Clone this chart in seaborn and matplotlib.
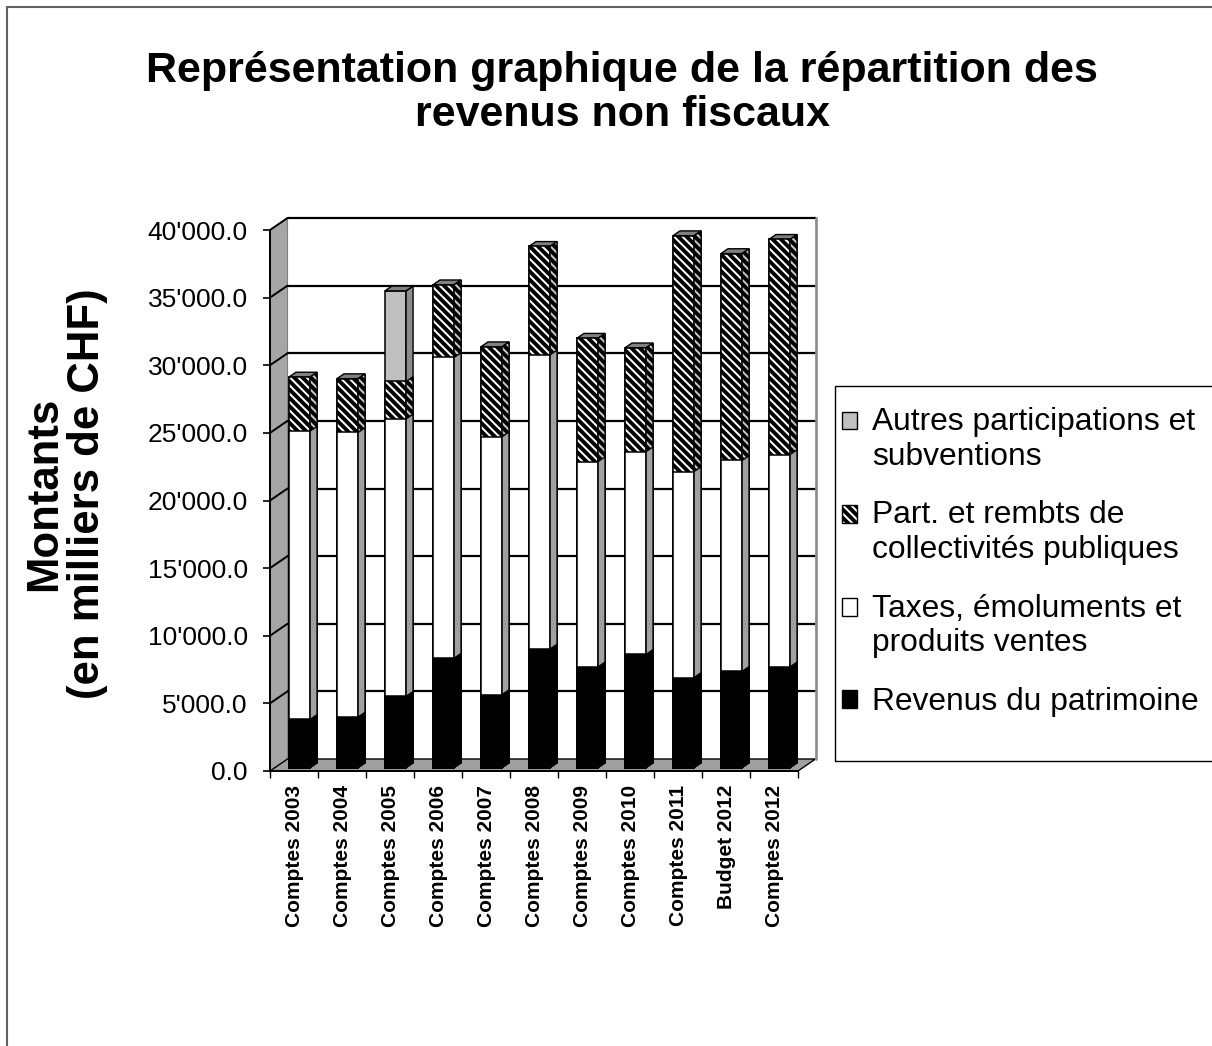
import numpy as np
import matplotlib
matplotlib.use("Agg")
import matplotlib.pyplot as plt
import seaborn as sns
from matplotlib.patches import Polygon, Rectangle, Patch
from matplotlib.transforms import ScaledTranslation, IdentityTransform
from matplotlib.lines import Line2D
from matplotlib.ticker import FuncFormatter, FixedLocator
from matplotlib.legend_handler import HandlerPatch

# ---------------- data ----------------
categories = ["Comptes 2003", "Comptes 2004", "Comptes 2005", "Comptes 2006",
              "Comptes 2007", "Comptes 2008", "Comptes 2009", "Comptes 2010",
              "Comptes 2011", "Budget 2012", "Comptes 2012"]
revenus_patrimoine = [3550, 3730, 5260, 8080, 5390, 8760, 7440, 8360, 6650, 7100, 7440]
taxes_emoluments = [21320, 21040, 20510, 22240, 19070, 21750, 15180, 14990, 15230, 15600, 15700]
part_rembts = [4000, 3980, 2770, 5370, 6650, 8020, 9120, 7680, 17440, 15300, 15910]
autres_participations = [0, 0, 6700, 0, 0, 0, 0, 0, 0, 0, 0]

series_labels = ["Revenus du patrimoine",
                 "Taxes, émoluments et\nproduits ventes",
                 "Part. et rembts de\ncollectivités publiques",
                 "Autres participations et\nsubventions"]
y_ticks = [0, 5000, 10000, 15000, 20000, 25000, 30000, 35000, 40000]
title = "Représentation graphique de la répartition des\nrevenus non fiscaux"
y_label = "Montants\n(en milliers de CHF)"

# ---------------- style ----------------
sns.set_theme(style="white")
plt.rcParams['font.family'] = ['Liberation Sans', 'DejaVu Sans']
plt.rcParams['hatch.linewidth'] = 2.8

W, H = 1212, 1046
fig = plt.figure(figsize=(W / 100, H / 100), dpi=100)
fig.patch.set_facecolor('white')
ax = fig.add_axes([270 / W, 1 - 771 / H, 528 / W, 541 / H])
ax.set_facecolor('none')

HATCH = '\\\\\\\\'
layers = [revenus_patrimoine, taxes_emoluments, part_rembts, autres_participations]
face_colors = ['black', 'white', 'white', '#c0c0c0']
side_colors = ['black', '#a0a0a0', '#c8c8c8', '#8c8c8c']
hatches = [None, None, HATCH, None]
cum = np.cumsum(np.array(layers, dtype=float), axis=0)

# geometry of the pseudo-3D look (pixels)
DX, DY = 17.5, 12.0      # depth of walls / floor
BOX, BOY = 5.5, 3.5      # front face of bars offset from front plane
SDX, SDY = 7.0, 4.8      # depth of bars
bar_off = ax.transData + ScaledTranslation(BOX / 100, BOY / 100, fig.dpi_scale_trans)

containers = []
for k in reversed(range(len(layers))):
    kw = dict(x=categories, y=cum[k], color=face_colors[k], saturation=1,
              edgecolor='black', linewidth=1.1, width=0.44, ax=ax, zorder=6 - k)
    if hatches[k]:
        kw['hatch'] = hatches[k]
    n0 = len(ax.patches)
    sns.barplot(**kw)
    containers.append((k, list(ax.patches[n0:])))

ax.set_xlim(-0.5, len(categories) - 0.5)
ax.set_ylim(0, 40000)
ax.set_xlabel('')
ax.set_ylabel('')

ident = IdentityTransform()
for k, bars in containers:
    for b in bars:
        b.set_transform(bar_off)
        b.set_clip_on(False)
        bx, by, bw, bh = b.get_x(), b.get_y(), b.get_width(), b.get_height()
        (xr0, y0) = bar_off.transform((bx + bw, by))
        (xr1, y1) = bar_off.transform((bx + bw, by + bh))
        (xl1, _) = bar_off.transform((bx, by + bh))
        side = Polygon([(xr0, y0), (xr0 + SDX, y0 + SDY), (xr1 + SDX, y1 + SDY), (xr1, y1)],
                       closed=True, transform=ident, facecolor=side_colors[k],
                       edgecolor='black', linewidth=1.0, hatch=hatches[k],
                       zorder=6 - k, clip_on=False)
        ax.add_patch(side)
        if k == len(layers) - 1:
            cap = Polygon([(xl1, y1), (xr1, y1), (xr1 + SDX, y1 + SDY), (xl1 + SDX, y1 + SDY)],
                          closed=True, transform=ident, facecolor='#808080',
                          edgecolor='black', linewidth=1.0, zorder=6 - k, clip_on=False)
            ax.add_patch(cap)

# ---- walls, floor and back gridlines ----
xl, xr = ax.get_xlim()
(fx0, fy0) = ax.transData.transform((xl, 0))
(fx1, fy1) = ax.transData.transform((xl, 40000))
(fx2, _) = ax.transData.transform((xr, 0))

wall = Polygon([(fx0, fy0), (fx1, fy1), (fx1 + DX, fy1 + DY), (fx0 + DX, fy0 + DY)],
               closed=True, transform=ident, facecolor='#a6a6a6', edgecolor='#808080',
               linewidth=0.8, zorder=0.5, clip_on=False)
ax.add_patch(wall)
floor = Polygon([(fx0, fy0), (fx2, fy0), (fx2 + DX, fy0 + DY), (fx0 + DX, fy0 + DY)],
                closed=True, transform=ident, facecolor='#a0a0a0', edgecolor='black',
                linewidth=1.0, zorder=0.5, clip_on=False)
ax.add_patch(floor)

for v in y_ticks[1:]:
    (_, yv) = ax.transData.transform((xl, v))
    ax.add_line(Line2D([fx0 + DX, fx2 + DX], [yv + DY, yv + DY], transform=ident,
                       color='black', linewidth=1.6, zorder=0.6, clip_on=False))
    ax.add_line(Line2D([fx0, fx0 + DX], [yv, yv + DY], transform=ident,
                       color='black', linewidth=1.4, zorder=0.6, clip_on=False))
ax.add_line(Line2D([fx2 + DX, fx2 + DX], [fy0 + DY, fy1 + DY], transform=ident,
                   color='#909090', linewidth=2.0, zorder=0.6, clip_on=False))

# ---- axes / ticks ----
for s in ['top', 'right']:
    ax.spines[s].set_visible(False)
for s in ['left', 'bottom']:
    ax.spines[s].set_color('black')
    ax.spines[s].set_linewidth(1.4)
    ax.spines[s].set_zorder(0.7)

ax.yaxis.set_major_locator(FixedLocator(y_ticks))
ax.yaxis.set_major_formatter(FuncFormatter(lambda v, p: f"{v:,.1f}".replace(',', "'")))
ax.tick_params(axis='y', which='major', direction='out', length=5, width=1.2,
               color='black', labelsize=19, pad=11, left=True)
for t in ax.get_yticklabels():
    t.set_color('black')

ax.set_xticks(range(len(categories)))
ax.set_xticklabels(categories, rotation=90, fontweight='bold', fontsize=15, color='black')
ax.xaxis.set_minor_locator(FixedLocator(np.arange(-0.5, len(categories), 1.0)))
ax.tick_params(axis='x', which='major', length=0, pad=10)
ax.tick_params(axis='x', which='minor', direction='out', length=5, width=1.0,
               color='black', bottom=True)

# ---- title / y label ----
fig.text(622 / W, 1 - 93 / H, title, ha='center', va='center', fontsize=31,
         fontweight='bold', linespacing=1.12, color='black')
fig.text(66 / W, 1 - 494 / H, y_label, ha='center', va='center', rotation=90,
         fontsize=31.5, fontweight='bold', linespacing=1.05, multialignment='center',
         color='black')

# ---- legend ----
LEG_FS = 22.9


def make_handler(shift):
    def patch_func(legend, orig_handle, xdescent, ydescent, width, height, fontsize):
        return Rectangle((-xdescent, -ydescent + shift), width, height)
    return HandlerPatch(patch_func=patch_func)


legend_labels = series_labels[::-1]
handles = [Patch(facecolor='#c0c0c0', edgecolor='black', linewidth=1.0),
           Patch(facecolor='white', edgecolor='black', hatch=HATCH, linewidth=1.0),
           Patch(facecolor='white', edgecolor='black', linewidth=1.0),
           Patch(facecolor='black', edgecolor='black', linewidth=1.0)]
hmap = {h: make_handler(0.6 * LEG_FS if '\n' in lab else 0.0)
        for h, lab in zip(handles, legend_labels)}
leg = fig.legend(handles, legend_labels, loc='upper left', handler_map=hmap,
                 bbox_to_anchor=(842 / W, 1 - 407 / H), frameon=False, fontsize=LEG_FS,
                 handlelength=0.48, handleheight=0.48, handletextpad=0.47,
                 labelspacing=0.905, borderpad=0.0, borderaxespad=0.0)
for t in leg.get_texts():
    t.set_color('black')
fig.add_artist(Rectangle((835 / W, 1 - 761 / H), (1230 - 835) / W, (761 - 386) / H,
                         transform=fig.transFigure, fill=False, edgecolor='black',
                         linewidth=1.0))

# ---- outer border ----
fig.add_artist(Line2D([7 / W, 7 / W], [0, 1 - 7 / H], transform=fig.transFigure,
                      color='#606060', linewidth=1.5))
fig.add_artist(Line2D([7 / W, 1], [1 - 7 / H, 1 - 7 / H], transform=fig.transFigure,
                      color='#606060', linewidth=1.5))

fig.savefig('out.png', dpi=100, facecolor='white')
